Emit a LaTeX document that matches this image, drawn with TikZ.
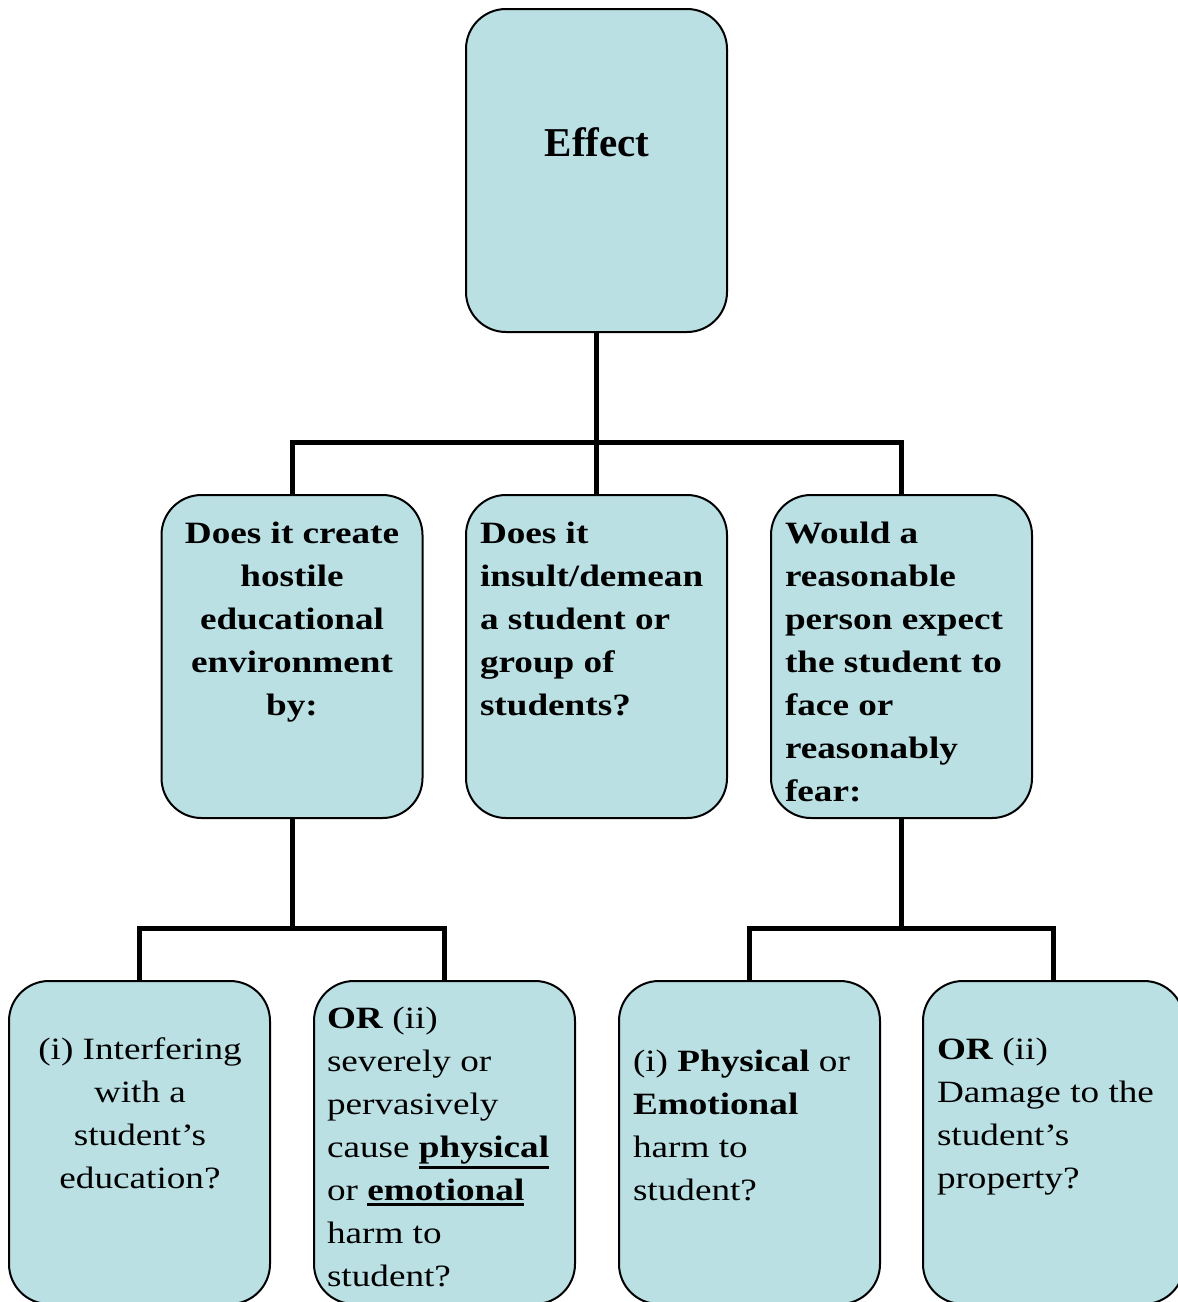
\documentclass[tikz,border=0pt]{standalone}
\usepackage{fontspec}
\setmainfont{Liberation Serif}
\newfontfamily\wideserif[FakeStretch=1.2]{Liberation Serif}
\definecolor{boxblue}{RGB}{186,224,228}
\newcommand\ulword[1]{\leavevmode\setbox0\hbox{#1}\rlap{\lower\dimexpr\dp0+2.6pt\relax\hbox{\rule{\wd0}{1.5pt}}}\box0}
\tikzset{every picture/.style={line width=1pt}}
\tikzset{
  boxnode/.style={draw, fill=boxblue, rounded corners=20pt, minimum width=130.5pt, minimum height=161.5pt, inner sep=0pt},
  link/.style={line width=2.5pt},
  boxtext/.style={inner sep=0pt, font=\wideserif\fontsize{15.5}{21.5}\selectfont},
  boldtext/.style={inner sep=0pt, font=\wideserif\bfseries\fontsize{15.5}{21.5}\selectfont}
}
\begin{document}
\begin{tikzpicture}[x=0.5pt,y=0.5pt,yscale=-1,xscale=1]
            \useasboundingbox (0,0) rectangle (1178,1302);
            \clip (0,0) rectangle (1178,1302);

            %Shape: Rounded Rect [id:effect] 
            \node [boxnode] (effect) at (596.5,170.5) {};
            %Shape: Rounded Rect [id:hostile] 
            \node [boxnode] (hostile) at (292,656.5) {};
            %Shape: Rounded Rect [id:insult] 
            \node [boxnode] (insult) at (596.5,656.5) {};
            %Shape: Rounded Rect [id:fear] 
            \node [boxnode] (fear) at (901.5,656.5) {};
            %Shape: Rounded Rect [id:interfere] 
            \node [boxnode] (interfere) at (139.5,1142.5) {};
            %Shape: Rounded Rect [id:severe] 
            \node [boxnode] (severe) at (444.5,1142.5) {};
            %Shape: Rounded Rect [id:harm] 
            \node [boxnode] (harm) at (749.5,1142.5) {};
            %Shape: Rounded Rect [id:property] 
            \node [boxnode] (property) at (1053.5,1142.5) {};

            %Straight Lines [id:forktop] 
            \coordinate (forktop) at (596.5,442);
            \draw [link] (effect.south) -- (forktop) ;
            \draw [link] (hostile.north) |- (forktop) -| (fear.north) ;
            \draw [link] (forktop) -- (insult.north) ;
            %Straight Lines [id:forkleft] 
            \coordinate (forkleft) at (292,928);
            \draw [link] (hostile.south) -- (forkleft) ;
            \draw [link] (interfere.north) |- (forkleft) -| (severe.north) ;
            %Straight Lines [id:forkright] 
            \coordinate (forkright) at (901.5,928);
            \draw [link] (fear.south) -- (forkright) ;
            \draw [link] (harm.north) |- (forkright) -| (property.north) ;

            % Text Node
            \node [anchor=base, inner sep=0pt, font=\bfseries\fontsize{20.5}{24}\selectfont] (effecttext) at (597,156) {Effect};
            % Text Node
            \node [boldtext, anchor=north, align=center] (hostiletext) at (292,521) {Does it create\\hostile\\educational\\environment\\by:};
            % Text Node
            \node [boldtext, anchor=north west, align=left] (insulttext) at (479,521) {Does it\\insult/demean\\a student or\\group of\\students?};
            % Text Node
            \node [boldtext, anchor=north west, align=left] (feartext) at (784,521) {Would a\\reasonable\\person expect\\the student to\\face or\\reasonably\\fear:};
            % Text Node
            \node [boxtext, anchor=north, align=center] (interferetext) at (140,1037) {(i) Interfering\\with a\\student’s\\education?};
            % Text Node
            \node [boxtext, anchor=north west, align=left] (severetext) at (326,1006) {\textbf{OR} (ii)\\severely or\\pervasively\\cause \ulword{\textbf{physical}}\\or \ulword{\textbf{emotional}}\\harm to\\student?};
            % Text Node
            \node [boxtext, anchor=north west, align=left] (harmtext) at (632,1049) {(i) \textbf{Physical} or\\\textbf{Emotional}\\harm to\\student?};
            % Text Node
            \node [boxtext, anchor=north west, align=left] (propertytext) at (936,1037) {\textbf{OR} (ii)\\Damage to the\\student’s\\property?};
        \end{tikzpicture}
\end{document}
